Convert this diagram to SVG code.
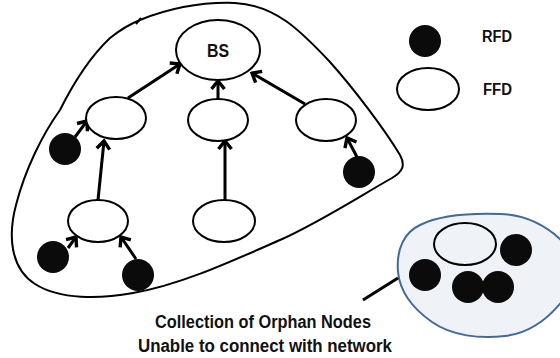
<svg xmlns="http://www.w3.org/2000/svg" width="560" height="358" viewBox="0 0 560 358">
<defs>
<style>
.ffd{fill:#fff;stroke:#000;stroke-width:2}
.rfd{fill:#0b0b0b;stroke:none}
.lbl{font-family:"Liberation Sans",Arial,sans-serif;font-weight:bold;fill:#111}
.edge{stroke:#000;stroke-width:3;fill:none;marker-end:url(#ah)}
</style>
<marker id="ah" markerUnits="userSpaceOnUse" viewBox="-12 -9 14 18" markerWidth="14" markerHeight="18" refX="0" refY="0" orient="auto">
<path d="M-8,-6.5 L0,0 L-8,6.5" fill="none" stroke="#000" stroke-width="3.4"/>
</marker>
</defs>
<rect width="560" height="358" fill="#fff"/>
<g id="network-boundary">
<path d="M140,20 C175,6 205,2 235,3 C275,5 300,30 330,62 C355,90 385,130 400,155 C406,166 402,172 392,178 C360,196 320,222 280,240 C230,262 180,285 133,293 C100,299 60,300 35,284 C10,268 8,235 16,205 C25,170 42,135 60,110 C75,80 92,55 110,38 C120,30 130,24 140,20 Z" fill="none" stroke="#000" stroke-width="2"/>
<path d="M136,24 L141,18" stroke="#000" stroke-width="2"/>
</g>
<g id="orphan-boundary">
<path d="M398,272 C396,248 405,232 420,225 C440,215 470,213 500,214 C530,215 550,228 566,245 L566,296 C550,318 530,333 505,336 C480,339 452,336 432,322 C412,308 400,292 398,272 Z" fill="#eff3f8" stroke="#41699b" stroke-width="2"/>
</g>
<g id="connectors">
<line class="edge" x1="128" y1="98" x2="180" y2="64"/>
<line class="edge" x1="218" y1="99" x2="218" y2="81"/>
<line class="edge" x1="305" y1="104" x2="252" y2="73"/>
<line class="edge" x1="75" y1="137" x2="87" y2="121"/>
<line class="edge" x1="98" y1="200" x2="104" y2="141"/>
<line class="edge" x1="225" y1="200" x2="225" y2="141"/>
<line class="edge" x1="357" y1="157" x2="347" y2="138"/>
<line class="edge" x1="68" y1="248" x2="76" y2="237"/>
<line class="edge" x1="136" y1="259" x2="121" y2="237"/>
<line x1="363" y1="300" x2="398" y2="278" stroke="#000" stroke-width="3"/>
</g>
<g id="bs"><ellipse class="ffd" cx="218" cy="50" rx="42" ry="30"/><text class="lbl" x="218" y="57" font-size="18" text-anchor="middle" textLength="22" lengthAdjust="spacingAndGlyphs">BS</text></g>
<g id="ffd-left"><ellipse class="ffd" cx="116" cy="118" rx="30" ry="21"/></g>
<g id="ffd-mid"><ellipse class="ffd" cx="218" cy="120" rx="30" ry="21"/></g>
<g id="ffd-right"><ellipse class="ffd" cx="326" cy="120" rx="30" ry="21"/></g>
<g id="ffd-bottom-left"><ellipse class="ffd" cx="98" cy="221" rx="30" ry="21"/></g>
<g id="ffd-bottom-mid"><ellipse class="ffd" cx="224" cy="221" rx="31" ry="21"/></g>
<g id="rfd-left"><circle class="rfd" cx="65" cy="149" r="16"/></g>
<g id="rfd-right"><circle class="rfd" cx="359" cy="172" r="16"/></g>
<g id="rfd-bottom-left"><circle class="rfd" cx="53" cy="257" r="16"/></g>
<g id="rfd-bottom-right"><circle class="rfd" cx="138" cy="275" r="16"/></g>
<g id="orphans">
<ellipse cx="465" cy="244" rx="31" ry="21" fill="none" stroke="#000" stroke-width="2"/>
<circle class="rfd" cx="516" cy="250" r="16"/>
<circle class="rfd" cx="425" cy="275" r="16"/>
<circle class="rfd" cx="468" cy="287" r="16"/>
<circle class="rfd" cx="498" cy="287" r="16"/>
</g>
<g id="legend">
<circle class="rfd" cx="425" cy="41" r="16"/>
<text class="lbl" x="482" y="42" font-size="16" textLength="30" lengthAdjust="spacingAndGlyphs">RFD</text>
<ellipse class="ffd" cx="428" cy="89" rx="31" ry="21"/>
<text class="lbl" x="483" y="95" font-size="16" textLength="29" lengthAdjust="spacingAndGlyphs">FFD</text>
</g>
<g id="caption">
<text class="lbl" x="263" y="328" font-size="18" text-anchor="middle" textLength="216" lengthAdjust="spacingAndGlyphs">Collection of Orphan Nodes</text>
<text class="lbl" x="265" y="352" font-size="18" text-anchor="middle" textLength="254" lengthAdjust="spacingAndGlyphs">Unable to connect with network</text>
</g>
</svg>
